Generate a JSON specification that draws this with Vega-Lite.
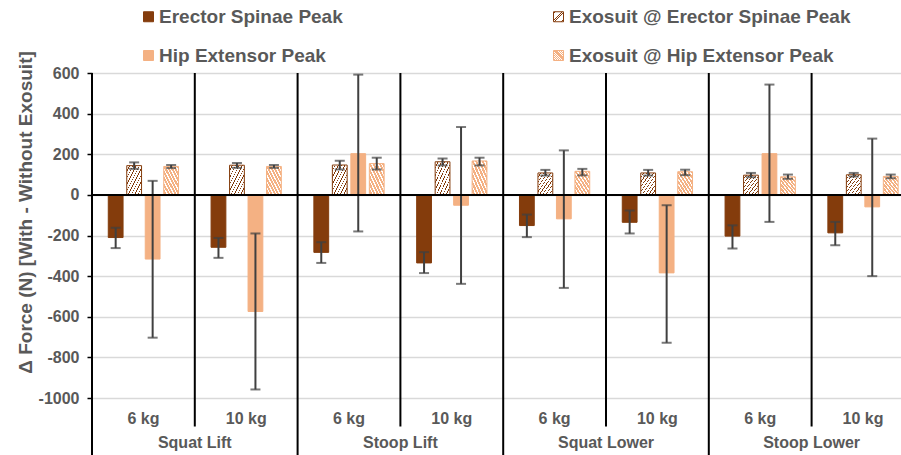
{
  "$schema": "https://vega.github.io/schema/vega-lite/v6.json",
  "width": 809,
  "height": 325,
  "autosize": {"type": "none"},
  "padding": {"left": 92, "top": 73, "right": 0, "bottom": 57},
  "background": "white",
  "config": {
    "view": {"stroke": null},
    "font": "Liberation Sans",
    "axis": {"labelFont": "Liberation Sans", "titleFont": "Liberation Sans"}
  },
  "data": {
    "values": [
      {"group": "Squat Lift|6 kg", "task": "Squat Lift", "load": "6 kg", "series": "Erector Spinae Peak", "value": -210, "lo": -262, "hi": -162},
      {"group": "Squat Lift|6 kg", "task": "Squat Lift", "load": "6 kg", "series": "Exosuit  @ Erector Spinae Peak", "value": 144, "lo": 128, "hi": 160},
      {"group": "Squat Lift|6 kg", "task": "Squat Lift", "load": "6 kg", "series": "Hip Extensor Peak", "value": -316, "lo": -703, "hi": 69},
      {"group": "Squat Lift|6 kg", "task": "Squat Lift", "load": "6 kg", "series": "Exosuit @ Hip Extensor Peak", "value": 140, "lo": 132, "hi": 147},
      {"group": "Squat Lift|10 kg", "task": "Squat Lift", "load": "10 kg", "series": "Erector Spinae Peak", "value": -258, "lo": -310, "hi": -212},
      {"group": "Squat Lift|10 kg", "task": "Squat Lift", "load": "10 kg", "series": "Exosuit  @ Erector Spinae Peak", "value": 146, "lo": 133, "hi": 157},
      {"group": "Squat Lift|10 kg", "task": "Squat Lift", "load": "10 kg", "series": "Hip Extensor Peak", "value": -574, "lo": -958, "hi": -190},
      {"group": "Squat Lift|10 kg", "task": "Squat Lift", "load": "10 kg", "series": "Exosuit @ Hip Extensor Peak", "value": 140, "lo": 133, "hi": 147},
      {"group": "Stoop Lift|6 kg", "task": "Stoop Lift", "load": "6 kg", "series": "Erector Spinae Peak", "value": -283, "lo": -335, "hi": -233},
      {"group": "Stoop Lift|6 kg", "task": "Stoop Lift", "load": "6 kg", "series": "Exosuit  @ Erector Spinae Peak", "value": 147, "lo": 125, "hi": 168},
      {"group": "Stoop Lift|6 kg", "task": "Stoop Lift", "load": "6 kg", "series": "Hip Extensor Peak", "value": 203, "lo": -180, "hi": 592},
      {"group": "Stoop Lift|6 kg", "task": "Stoop Lift", "load": "6 kg", "series": "Exosuit @ Hip Extensor Peak", "value": 154, "lo": 125, "hi": 183},
      {"group": "Stoop Lift|10 kg", "task": "Stoop Lift", "load": "10 kg", "series": "Erector Spinae Peak", "value": -335, "lo": -385, "hi": -282},
      {"group": "Stoop Lift|10 kg", "task": "Stoop Lift", "load": "10 kg", "series": "Exosuit  @ Erector Spinae Peak", "value": 163, "lo": 145, "hi": 179},
      {"group": "Stoop Lift|10 kg", "task": "Stoop Lift", "load": "10 kg", "series": "Hip Extensor Peak", "value": -51, "lo": -438, "hi": 334},
      {"group": "Stoop Lift|10 kg", "task": "Stoop Lift", "load": "10 kg", "series": "Exosuit @ Hip Extensor Peak", "value": 167, "lo": 145, "hi": 183},
      {"group": "Squat Lower|6 kg", "task": "Squat Lower", "load": "6 kg", "series": "Erector Spinae Peak", "value": -151, "lo": -208, "hi": -97},
      {"group": "Squat Lower|6 kg", "task": "Squat Lower", "load": "6 kg", "series": "Exosuit  @ Erector Spinae Peak", "value": 108, "lo": 95, "hi": 123},
      {"group": "Squat Lower|6 kg", "task": "Squat Lower", "load": "6 kg", "series": "Hip Extensor Peak", "value": -118, "lo": -458, "hi": 219},
      {"group": "Squat Lower|6 kg", "task": "Squat Lower", "load": "6 kg", "series": "Exosuit @ Hip Extensor Peak", "value": 116, "lo": 96, "hi": 128},
      {"group": "Squat Lower|10 kg", "task": "Squat Lower", "load": "10 kg", "series": "Erector Spinae Peak", "value": -135, "lo": -190, "hi": -77},
      {"group": "Squat Lower|10 kg", "task": "Squat Lower", "load": "10 kg", "series": "Exosuit  @ Erector Spinae Peak", "value": 108, "lo": 95, "hi": 123},
      {"group": "Squat Lower|10 kg", "task": "Squat Lower", "load": "10 kg", "series": "Hip Extensor Peak", "value": -384, "lo": -728, "hi": -51},
      {"group": "Squat Lower|10 kg", "task": "Squat Lower", "load": "10 kg", "series": "Exosuit @ Hip Extensor Peak", "value": 114, "lo": 97, "hi": 124},
      {"group": "Stoop Lower|6 kg", "task": "Stoop Lower", "load": "6 kg", "series": "Erector Spinae Peak", "value": -203, "lo": -264, "hi": -150},
      {"group": "Stoop Lower|6 kg", "task": "Stoop Lower", "load": "6 kg", "series": "Exosuit  @ Erector Spinae Peak", "value": 97, "lo": 87, "hi": 108},
      {"group": "Stoop Lower|6 kg", "task": "Stoop Lower", "load": "6 kg", "series": "Hip Extensor Peak", "value": 203, "lo": -133, "hi": 543},
      {"group": "Stoop Lower|6 kg", "task": "Stoop Lower", "load": "6 kg", "series": "Exosuit @ Hip Extensor Peak", "value": 89, "lo": 79, "hi": 100},
      {"group": "Stoop Lower|10 kg", "task": "Stoop Lower", "load": "10 kg", "series": "Erector Spinae Peak", "value": -187, "lo": -248, "hi": -133},
      {"group": "Stoop Lower|10 kg", "task": "Stoop Lower", "load": "10 kg", "series": "Exosuit  @ Erector Spinae Peak", "value": 99, "lo": 90, "hi": 108},
      {"group": "Stoop Lower|10 kg", "task": "Stoop Lower", "load": "10 kg", "series": "Hip Extensor Peak", "value": -59, "lo": -400, "hi": 277},
      {"group": "Stoop Lower|10 kg", "task": "Stoop Lower", "load": "10 kg", "series": "Exosuit @ Hip Extensor Peak", "value": 91, "lo": 82, "hi": 100}
    ]
  },
  "layer": [
    {
      "mark": {"type": "bar", "strokeWidth": 1},
      "encoding": {
        "x": {
          "field": "group", "type": "nominal", "sort": null,
          "scale": {"range": [0, 822.4], "paddingInner": 0, "paddingOuter": 0},
          "axis": {
            "title": null, "domain": false, "ticks": false, "grid": false,
            "labelExpr": "split(datum.value, '|')[1]",
            "labelFontSize": 16, "labelFontWeight": "bold", "labelColor": "#595959",
            "labelBaseline": "middle", "labelPadding": 20, "labelAngle": 0
          }
        },
        "xOffset": {
          "field": "series", "type": "nominal", "sort": null,
          "scale": {"domain": ["Erector Spinae Peak", "Exosuit  @ Erector Spinae Peak", "Hip Extensor Peak", "Exosuit @ Hip Extensor Peak"], "paddingInner": 0.2, "paddingOuter": 0.88}
        },
        "y": {
          "field": "value", "type": "quantitative",
          "scale": {"domain": [-1000, 600], "nice": false, "zero": false},
          "axis": {
            "values": [-1000, -800, -600, -400, -200, 0, 200, 400, 600],
            "labelExpr": "datum.value + ''",
            "domain": false, "ticks": true, "tickSize": 5, "tickColor": "#000000", "tickWidth": 1.5,
            "grid": true, "gridColor": "#d9d9d9", "gridWidth": 1.5,
            "labelFontSize": 16, "labelFontWeight": "bold", "labelColor": "#595959", "labelPadding": 8,
            "title": "Δ Force (N) [With - Without Exosuit]",
            "titleFontSize": 19, "titleFontWeight": "bold", "titleColor": "#595959",
            "titleX": -67, "titleY": 139, "titleAngle": -90, "titleBaseline": "middle", "titleAlign": "center"
          }
        },
        "fill": {
          "field": "series", "type": "nominal",
          "scale": {
            "domain": ["Erector Spinae Peak", "Hip Extensor Peak", "Exosuit  @ Erector Spinae Peak", "Exosuit @ Hip Extensor Peak"],
            "range": [
              "#843C0C",
              "#F4B183",
              {"expr": "{gradient:'linear',x1:0,y1:0,x2:1,y2:1,stops:[{offset:0,color:'#ffffff'},{offset:0.085,color:'#ffffff'},{offset:0.085,color:'#843C0C'},{offset:0.111,color:'#843C0C'},{offset:0.111,color:'#ffffff'},{offset:0.196,color:'#ffffff'},{offset:0.196,color:'#843C0C'},{offset:0.222,color:'#843C0C'},{offset:0.222,color:'#ffffff'},{offset:0.307,color:'#ffffff'},{offset:0.307,color:'#843C0C'},{offset:0.333,color:'#843C0C'},{offset:0.333,color:'#ffffff'},{offset:0.418,color:'#ffffff'},{offset:0.418,color:'#843C0C'},{offset:0.444,color:'#843C0C'},{offset:0.444,color:'#ffffff'},{offset:0.529,color:'#ffffff'},{offset:0.529,color:'#843C0C'},{offset:0.555,color:'#843C0C'},{offset:0.555,color:'#ffffff'},{offset:0.640,color:'#ffffff'},{offset:0.640,color:'#843C0C'},{offset:0.666,color:'#843C0C'},{offset:0.666,color:'#ffffff'},{offset:0.751,color:'#ffffff'},{offset:0.751,color:'#843C0C'},{offset:0.777,color:'#843C0C'},{offset:0.777,color:'#ffffff'},{offset:0.862,color:'#ffffff'},{offset:0.862,color:'#843C0C'},{offset:0.888,color:'#843C0C'},{offset:0.888,color:'#ffffff'},{offset:0.973,color:'#ffffff'},{offset:0.973,color:'#843C0C'},{offset:1,color:'#843C0C'}]}"},
              {"expr": "{gradient:'linear',x1:1,y1:0,x2:0,y2:1,stops:[{offset:0,color:'#F4B183'},{offset:0.07,color:'#F4B183'},{offset:0.07,color:'#ffffff'},{offset:0.111,color:'#ffffff'},{offset:0.111,color:'#F4B183'},{offset:0.181,color:'#F4B183'},{offset:0.181,color:'#ffffff'},{offset:0.222,color:'#ffffff'},{offset:0.222,color:'#F4B183'},{offset:0.292,color:'#F4B183'},{offset:0.292,color:'#ffffff'},{offset:0.333,color:'#ffffff'},{offset:0.333,color:'#F4B183'},{offset:0.403,color:'#F4B183'},{offset:0.403,color:'#ffffff'},{offset:0.444,color:'#ffffff'},{offset:0.444,color:'#F4B183'},{offset:0.514,color:'#F4B183'},{offset:0.514,color:'#ffffff'},{offset:0.555,color:'#ffffff'},{offset:0.555,color:'#F4B183'},{offset:0.625,color:'#F4B183'},{offset:0.625,color:'#ffffff'},{offset:0.666,color:'#ffffff'},{offset:0.666,color:'#F4B183'},{offset:0.736,color:'#F4B183'},{offset:0.736,color:'#ffffff'},{offset:0.777,color:'#ffffff'},{offset:0.777,color:'#F4B183'},{offset:0.847,color:'#F4B183'},{offset:0.847,color:'#ffffff'},{offset:0.888,color:'#ffffff'},{offset:0.888,color:'#F4B183'},{offset:0.958,color:'#F4B183'},{offset:0.958,color:'#ffffff'},{offset:1,color:'#ffffff'}]}"}
            ]
          },
          "legend": {
            "title": null, "orient": "none", "legendX": 47, "legendY": -66,
            "columns": 2, "columnPadding": 206, "rowPadding": 19,
            "symbolType": "square", "symbolSize": 100, "symbolStrokeWidth": 1,
            "labelFontSize": 19, "labelFontWeight": "bold", "labelColor": "#595959", "labelOffset": 1, "labelLimit": 400
          }
        },
        "stroke": {
          "field": "series", "type": "nominal",
          "scale": {
            "domain": ["Erector Spinae Peak", "Hip Extensor Peak", "Exosuit  @ Erector Spinae Peak", "Exosuit @ Hip Extensor Peak"],
            "range": ["#843C0C", "#F4B183", "#843C0C", "#F4B183"]
          },
          "legend": {
            "title": null, "orient": "none", "legendX": 47, "legendY": -66,
            "columns": 2, "columnPadding": 206, "rowPadding": 19,
            "symbolType": "square", "symbolSize": 100, "symbolStrokeWidth": 1,
            "labelFontSize": 19, "labelFontWeight": "bold", "labelColor": "#595959", "labelOffset": 1, "labelLimit": 400
          }
        }
      }
    },
    {
      "mark": {"type": "rule", "color": "#404040", "strokeWidth": 2},
      "encoding": {
        "x": {"field": "group", "type": "nominal", "sort": null},
        "xOffset": {"field": "series", "type": "nominal", "sort": null},
        "y": {"field": "lo", "type": "quantitative"},
        "y2": {"field": "hi"}
      }
    },
    {
      "mark": {"type": "tick", "color": "#404040", "size": 10, "thickness": 2},
      "encoding": {
        "x": {"field": "group", "type": "nominal", "sort": null},
        "xOffset": {"field": "series", "type": "nominal", "sort": null},
        "y": {"field": "lo", "type": "quantitative"}
      }
    },
    {
      "mark": {"type": "tick", "color": "#404040", "size": 10, "thickness": 2},
      "encoding": {
        "x": {"field": "group", "type": "nominal", "sort": null},
        "xOffset": {"field": "series", "type": "nominal", "sort": null},
        "y": {"field": "hi", "type": "quantitative"}
      }
    },
    {
      "data": {"values": [{"zero": 0}]},
      "mark": {"type": "rule", "color": "#000000", "strokeWidth": 2},
      "encoding": {"y": {"field": "zero", "type": "quantitative"}}
    },
    {
      "transform": [{"filter": "datum.load == '10 kg' && datum.series == 'Erector Spinae Peak'"}],
      "mark": {"type": "rule", "color": "#000000", "strokeWidth": 2},
      "encoding": {
        "x": {"field": "group", "type": "nominal", "sort": null, "bandPosition": 0},
        "y": {"datum": 600},
        "y2": {"datum": -1140}
      }
    },
    {
      "transform": [{"filter": "datum.load == '6 kg' && datum.series == 'Erector Spinae Peak'"}],
      "mark": {"type": "rule", "color": "#000000", "strokeWidth": 2},
      "encoding": {
        "x": {"field": "group", "type": "nominal", "sort": null, "bandPosition": 0},
        "y": {"datum": 600},
        "y2": {"datum": -1320}
      }
    },
    {
      "transform": [{"filter": "datum.load == '10 kg' && datum.series == 'Erector Spinae Peak'"}],
      "mark": {"type": "text", "fontSize": 16, "fontWeight": "bold", "color": "#595959", "baseline": "middle", "align": "center"},
      "encoding": {
        "x": {"field": "group", "type": "nominal", "sort": null, "bandPosition": 0},
        "y": {"datum": -1222},
        "text": {"field": "task"}
      }
    }
  ]
}
